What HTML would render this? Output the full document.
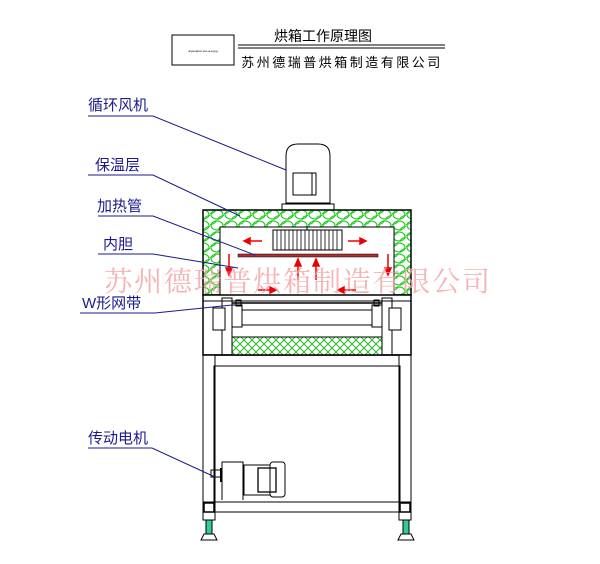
<!DOCTYPE html>
<html><head><meta charset="utf-8"><style>
body{margin:0;background:#fff;}
svg{display:block;}
text{font-family:"Liberation Sans","Noto Sans CJK SC",sans-serif;}
</style></head><body>
<svg width="600" height="564" viewBox="0 0 600 564" xmlns="http://www.w3.org/2000/svg">
<defs>
<pattern id="ins" width="14" height="11" patternUnits="userSpaceOnUse">
<rect width="14" height="11" fill="#fff"/>
<ellipse cx="7" cy="5.5" rx="6" ry="4.5" fill="none" stroke="#22cc22" stroke-width="1.2"/>
<ellipse cx="0" cy="0" rx="6" ry="4.5" fill="none" stroke="#22cc22" stroke-width="1"/>
<ellipse cx="14" cy="11" rx="6" ry="4.5" fill="none" stroke="#22cc22" stroke-width="1"/>
</pattern>
<pattern id="mesh" width="8" height="8" patternUnits="userSpaceOnUse">
<rect width="8" height="8" fill="#fff"/>
<path d="M0 0L8 8M8 0L0 8" stroke="#22bb22" stroke-width="1"/>
</pattern>
</defs>
<!-- header -->
<rect x="172" y="35" width="62" height="30" fill="none" stroke="#000"/>
<text x="203" y="52" font-size="3" text-anchor="middle">a/pest/par sso-a-a.jpg</text>
<text x="323" y="41" font-size="14" text-anchor="middle">烘箱工作原理图</text>
<line x1="238" y1="45" x2="445" y2="45" stroke="#000"/>
<line x1="238" y1="48" x2="445" y2="48" stroke="#000"/>
<text x="342" y="67" font-size="13" text-anchor="middle" letter-spacing="2.5">苏州德瑞普烘箱制造有限公司</text>

<!-- fan motor -->
<path d="M286 203 V156 Q286 144 298 144 H318 Q330 144 330 156 V203 Z" fill="#fff" stroke="#000"/>
<rect x="293" y="173" width="23" height="22" fill="none" stroke="#000"/>
<line x1="312" y1="173" x2="312" y2="195" stroke="#000"/>
<path d="M282 210 V204 H334 V210" fill="none" stroke="#000"/>

<!-- oven insulation -->
<rect x="203" y="210" width="208" height="85" fill="url(#ins)" stroke="#000" stroke-width="1.5"/>
<rect x="220" y="227" width="174" height="70" fill="#fff" stroke="#000"/>
<rect x="273" y="230" width="69" height="20" fill="#fff" stroke="#000"/>
<g stroke="#000" stroke-width="0.8">
<path d="M277 230V250M281 230V250M285 230V250M289 230V250M293 230V250M297 230V250M301 230V250M305 230V250M309 230V250M313 230V250M317 230V250M321 230V250M325 230V250M329 230V250M333 230V250M337 230V250"/>
</g>
<line x1="307" y1="227" x2="307" y2="230" stroke="#000"/>
<rect x="238" y="254" width="140" height="3" fill="#b03030" stroke="#000" stroke-width="0.5"/>
<!-- arrows -->
<g stroke="#e00" stroke-width="1.5" fill="#e00">
<line x1="248" y1="241" x2="262" y2="241"/><path d="M250 238L244 241L250 244Z"/>
<line x1="348" y1="241" x2="362" y2="241"/><path d="M360 238L366 241L360 244Z"/>
<line x1="229" y1="254" x2="229" y2="272"/><path d="M226 268L229 275L232 268Z"/>
<line x1="388" y1="254" x2="388" y2="272"/><path d="M385 268L388 275L391 268Z"/>
<line x1="298" y1="262" x2="298" y2="280"/><path d="M295 266L298 259L301 266Z"/>
<line x1="316" y1="262" x2="316" y2="280"/><path d="M313 266L316 259L319 266Z"/>
<line x1="258" y1="290" x2="276" y2="290"/><path d="M270 287L276 290L270 293Z"/>
<line x1="338" y1="290" x2="356" y2="290"/><path d="M344 287L338 290L344 293Z"/>
</g>

<!-- conveyor section -->
<rect x="203" y="295" width="208" height="60" fill="#fff" stroke="#000" stroke-width="1.5"/>
<line x1="203" y1="301" x2="411" y2="301" stroke="#000"/>
<rect x="232" y="337" width="150" height="18" fill="url(#mesh)" stroke="#000"/>
<line x1="232" y1="303" x2="382" y2="303" stroke="#000" stroke-width="1.5"/>
<line x1="240" y1="310" x2="375" y2="310" stroke="#000"/>
<line x1="240" y1="325" x2="375" y2="325" stroke="#000"/>
<rect x="222" y="298" width="10" height="57" fill="none" stroke="#000"/>
<rect x="382" y="298" width="10" height="57" fill="none" stroke="#000"/>
<rect x="213" y="308" width="12" height="22" fill="#fff" stroke="#000"/>
<rect x="389" y="308" width="12" height="22" fill="#fff" stroke="#000"/>
<rect x="232" y="305" width="10" height="22" fill="#fff" stroke="#000"/>
<rect x="372" y="305" width="10" height="22" fill="#fff" stroke="#000"/>
<rect x="236" y="300" width="5" height="6" fill="none" stroke="#000"/>
<rect x="374" y="300" width="5" height="6" fill="none" stroke="#000"/>

<!-- lower frame -->
<rect x="203" y="355" width="12" height="165" fill="#fff" stroke="#000"/>
<rect x="399" y="355" width="12" height="165" fill="#fff" stroke="#000"/>
<line x1="203" y1="355" x2="411" y2="355" stroke="#000" stroke-width="1.5"/>
<rect x="214" y="366" width="186" height="136" fill="none" stroke="#000"/>
<rect x="203" y="502" width="208" height="10" fill="none" stroke="#000"/>
<rect x="204" y="503" width="10" height="9" fill="none" stroke="#000" stroke-width="1.5"/>
<rect x="400" y="503" width="10" height="9" fill="none" stroke="#000" stroke-width="1.5"/>
<rect x="206" y="520" width="6" height="14" fill="#3c9" stroke="#000"/>
<rect x="403" y="520" width="6" height="14" fill="#3c9" stroke="#000"/>
<path d="M201 540 L204 534 H214 L217 540 Z" fill="#fff" stroke="#000"/>
<path d="M398 540 L401 534 H411 L414 540 Z" fill="#fff" stroke="#000"/>

<!-- drive motor -->
<path d="M222 500 V462 H243 V500" fill="none" stroke="#000"/>
<rect x="244" y="465" width="26" height="30" fill="none" stroke="#000"/>
<rect x="258" y="468" width="18" height="24" fill="none" stroke="#000" stroke-width="1.3"/>
<rect x="270" y="462" width="15" height="35" rx="3" fill="none" stroke="#000"/>
<rect x="211" y="470" width="10" height="7" fill="none" stroke="#000"/>
<line x1="221" y1="468" x2="221" y2="482" stroke="#000" stroke-width="2"/>

<!-- watermark -->
<text x="298" y="291" font-size="28" fill="#f2a0a0" fill-opacity="0.8" text-anchor="middle" letter-spacing="1.8" style="font-family:'Noto Serif CJK SC','Liberation Serif',serif">苏州德瑞普烘箱制造有限公司</text>

<!-- labels -->
<g fill="#1a1a8c" font-size="15">
<text x="88" y="110">循环风机</text>
<text x="95" y="170">保温层</text>
<text x="97" y="211">加热管</text>
<text x="103" y="249">内胆</text>
<text x="82" y="308">W形网带</text>
<text x="88" y="443">传动电机</text>
</g>
<g stroke="#1a1a8c" fill="none" stroke-width="1">
<polyline points="88,116 153,116 286,170"/>
<polyline points="88,175 153,175 240,216"/>
<polyline points="98,216 153,216 255,255"/>
<polyline points="98,254 153,254 238,268"/>
<polyline points="80,313 155,313 232,305"/>
<polyline points="88,448 152,448 215,477"/>
</g>
</svg>
</body></html>
